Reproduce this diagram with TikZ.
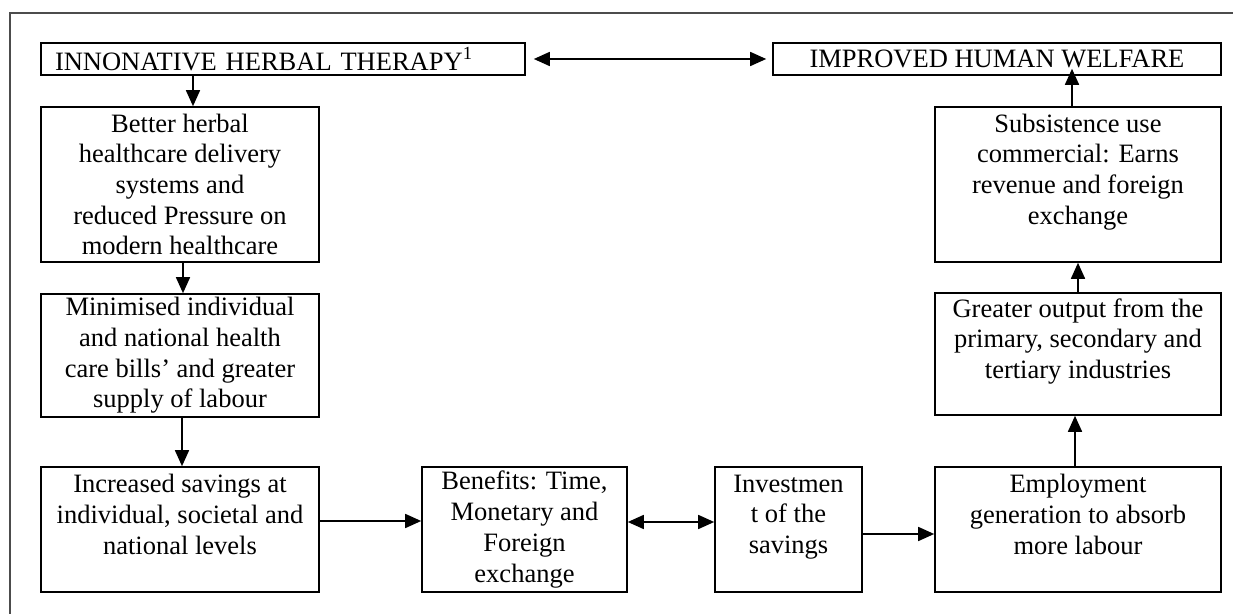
\documentclass[tikz,border=0pt]{standalone}
\usepackage{fontspec}
\setmainfont{Liberation Serif}
\usetikzlibrary{arrows.meta}

\begin{document}
\begin{tikzpicture}[->,>={Triangle[length=8pt,width=7pt]},x=0.5pt,y=-0.5pt,line width=0.8pt,
  box/.style={draw,rectangle,align=center,inner sep=0pt,font=\fontsize{13.25}{15.35}\selectfont},
  col/.style={box,minimum width=139pt},
  side/.style={box,minimum width=143pt}]
  \useasboundingbox (0,0) rectangle (1233,614);
  \draw[-,black!70,line width=1pt] (1233,13) -- (10,13) -- (10,614);

  \node[box,minimum width=242pt,minimum height=16pt,text width=228pt,align=left,inner xsep=7pt] (therapy) at (283,59) {INNONATIVE HERBAL THERAPY\textsuperscript{1}};
  \node[box,minimum width=224pt,minimum height=16pt] (welfare) at (997,59) {IMPROVED HUMAN WELFARE};

  \node[col,minimum height=77.5pt] (better) at (180,184.5) {Better herbal\\healthcare delivery\\systems and\\reduced Pressure on\\modern healthcare};
  \node[col,minimum height=61.5pt] (minimised) at (180,355.5) {Minimised individual\\and national health\\care bills’ and greater\\supply of labour};
  \node[col,minimum height=62.5pt] (savings) at (180,529.5) {Increased savings at\\individual, societal and\\national levels\\\mbox{}};
  \node[box,minimum width=102.5pt,minimum height=62.5pt] (benefits) at (524.5,529.5) {Benefits: Time,\\Monetary and\\Foreign\\exchange};
  \node[box,minimum width=73.5pt,minimum height=62.5pt] (invest) at (788.5,529.5) {Investmen\\t of the\\savings\\\mbox{}};
  \node[side,minimum height=62.5pt] (employ) at (1078,529.5) {Employment\\generation to absorb\\more labour\\\mbox{}};
  \node[side,minimum height=61pt] (greater) at (1078,354) {Greater output from the\\primary, secondary and\\tertiary industries\\\mbox{}};
  \node[side,minimum height=77.5pt] (subsist) at (1078,184.5) {Subsistence use\\commercial: Earns\\revenue and foreign\\exchange\\\mbox{}};

  \path ([xshift=6.5pt]better.north |- therapy.south) edge ([xshift=6.5pt]better.north)
        ([xshift=1.5pt]better.south) edge ([xshift=1.5pt]minimised.north)
        ([xshift=1pt]minimised.south) edge ([xshift=1pt]savings.north)
        ([yshift=4.25pt]savings.east) edge ([yshift=4.25pt]savings.east -| benefits.west)
        ([yshift=3.75pt]benefits.east) edge[<->] ([yshift=3.75pt]benefits.east -| invest.west)
        ([yshift=-2.25pt]invest.east) edge ([yshift=-2.25pt]invest.east -| employ.west)
        ([xshift=-1.5pt]employ.north) edge ([xshift=-1.5pt]greater.south)
        (greater) edge (subsist)
        ([xshift=-3pt]subsist.north) edge ([xshift=-3pt,yshift=3.5pt]subsist.north |- welfare.south)
        (therapy) edge[<->,shorten <=4pt,shorten >=3pt] (welfare);
\end{tikzpicture}
\end{document}
